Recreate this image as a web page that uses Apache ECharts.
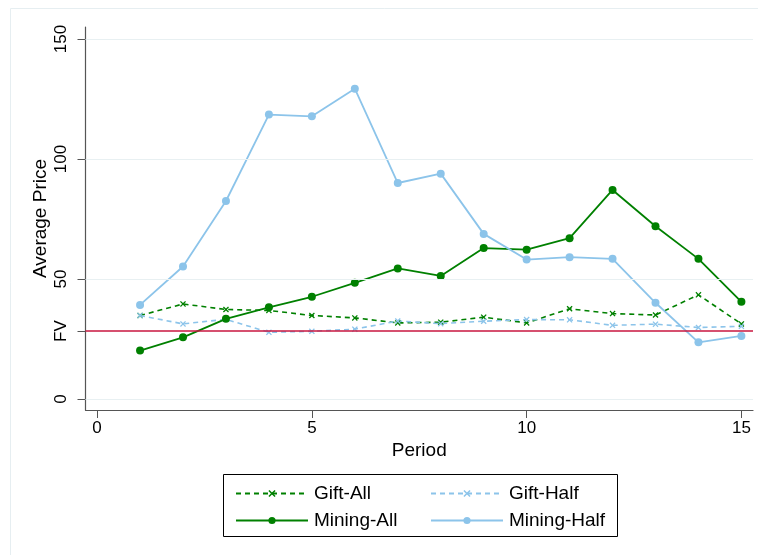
<!DOCTYPE html>
<html><head><meta charset="utf-8">
<script src="https://cdn.jsdelivr.net/npm/echarts@6/dist/echarts.min.js"></script>
<style>html,body{margin:0;padding:0;background:#fff}#c{width:758px;height:555px}</style>
</head><body><div id="c"></div>
<script>
const periods = [1,2,3,4,5,6,7,8,9,10,11,12,13,14,15];
const giftAll = [34.8, 39.6, 37.3, 36.9, 34.8, 33.8, 31.7, 32.0, 34.1, 31.7, 37.6, 35.6, 35.0, 43.4, 31.3];
const giftHalf = [34.8, 31.3, 33.2, 27.8, 28.2, 29.1, 32.5, 31.4, 32.4, 33.1, 33.0, 30.7, 31.2, 29.8, 30.3];
const miningAll = [20.2, 25.7, 33.4, 38.2, 42.6, 48.4, 54.4, 51.3, 62.9, 62.2, 67.0, 87.1, 72.0, 58.4, 40.5];
const miningHalf = [39.2, 55.2, 82.5, 118.5, 117.8, 129.3, 90.0, 93.9, 68.8, 58.1, 59.1, 58.4, 40.1, 23.6, 26.3];
const fv = 28.3;
const xTicks = [0, 5, 10, 15];
const yTicks = [0, 50, 100, 150];

const FONT = '"Liberation Sans", Arial, Helvetica, sans-serif';
const GREEN = '#008000';
const BLUE = '#8cc4ea';
const RED = '#c8163f';
const GRIDC = '#e8f0f2';
const AXISC = '#555555';
const XMARK = 'path://M0,1.5L1.5,0L5,3.5L8.5,0L10,1.5L6.5,5L10,8.5L8.5,10L5,6.5L1.5,10L0,8.5L3.5,5Z';

const pairs = ys => periods.map((p, i) => [p, ys[i]]);
const yLabelVals = yTicks.concat([fv]).sort((a,b)=>a-b);

const chart = echarts.init(document.getElementById('c'));
chart.setOption({
  animation: false,
  backgroundColor: '#ffffff',
  textStyle: { fontFamily: FONT },
  graphic: [
    { type: 'rect', shape: { x: 10.5, y: 8.5, width: 800, height: 600 }, style: { fill: 'none', stroke: '#e6eef1', lineWidth: 1 }, silent: true, z: -10 },
    { type: 'rect', shape: { x: 223.5, y: 474.5, width: 394, height: 62 }, style: { fill: '#fff', stroke: '#000', lineWidth: 1 }, silent: true, z: -1 }
  ],
  grid: { left: 85.5, right: 5, top: 27, bottom: 145, containLabel: false },
  xAxis: {
    type: 'value', min: -0.27, max: 15.27,
    name: 'Period', nameLocation: 'middle', nameGap: 31, nameMoveOverlap: false,
    nameTextStyle: { fontSize: 19, color: '#000', fontFamily: FONT },
    axisLine: { show: true, onZero: false, lineStyle: { color: AXISC, width: 1.2 } },
    axisTick: { show: true, length: 8, inside: false, customValues: xTicks, lineStyle: { color: AXISC } },
    axisLabel: { customValues: xTicks, fontSize: 17, color: '#000', margin: 10, fontFamily: FONT },
    splitLine: { show: false }
  },
  yAxis: {
    type: 'value', min: -4.58, max: 155,
    name: 'Average Price', nameLocation: 'middle', nameGap: 35, nameRotate: 90, nameMoveOverlap: false,
    nameTextStyle: { fontSize: 19, color: '#000', fontFamily: FONT },
    axisLine: { show: true, onZero: false, lineStyle: { color: AXISC, width: 1.2 } },
    axisTick: { show: true, length: 8, customValues: yLabelVals, lineStyle: { color: AXISC } },
    axisLabel: { customValues: yLabelVals, rotate: 90, fontSize: 17, color: '#000', margin: 16, fontFamily: FONT,
      formatter: v => (Math.abs(v - fv) < 0.01 ? 'FV' : String(v)) },
    splitLine: { show: false }
  },
  legend: [
    { data: ['Gift-All', 'Mining-All'], orient: 'vertical', left: 230, top: 479, itemWidth: 72, itemHeight: 9, itemGap: 8,
      textStyle: { fontSize: 19, color: '#000', fontFamily: FONT, padding: [0,0,0,1] } },
    { data: ['Gift-Half', 'Mining-Half'], orient: 'vertical', left: 425, top: 479, itemWidth: 72, itemHeight: 9, itemGap: 8,
      textStyle: { fontSize: 19, color: '#000', fontFamily: FONT, padding: [0,0,0,1] } }
  ],
  series: [
    { name: 'grid', type: 'line', data: [], silent: true, z: 0,
      markLine: { silent: true, symbol: 'none', label: { show: false },
        lineStyle: { color: GRIDC, width: 1.2, type: 'solid' },
        data: yTicks.map(v => ({ yAxis: v })).concat([{ yAxis: fv, lineStyle: { color: RED, width: 1.6 } }]) } },
    { name: 'Gift-All', type: 'line', data: pairs(giftAll), color: GREEN, symbol: XMARK, symbolSize: 6, z: 3,
      lineStyle: { color: GREEN, width: 1.6, type: [5, 4] }, itemStyle: { color: GREEN } },
    { name: 'Gift-Half', type: 'line', data: pairs(giftHalf), color: BLUE, symbol: XMARK, symbolSize: 6, z: 3,
      lineStyle: { color: BLUE, width: 1.6, type: [5, 4] }, itemStyle: { color: BLUE } },
    { name: 'Mining-All', type: 'line', data: pairs(miningAll), color: GREEN, symbol: 'circle', symbolSize: 8, z: 4,
      lineStyle: { color: GREEN, width: 1.8 }, itemStyle: { color: GREEN } },
    { name: 'Mining-Half', type: 'line', data: pairs(miningHalf), color: BLUE, symbol: 'circle', symbolSize: 8, z: 4,
      lineStyle: { color: BLUE, width: 1.8 }, itemStyle: { color: BLUE } }
  ]
});
</script></body></html>
